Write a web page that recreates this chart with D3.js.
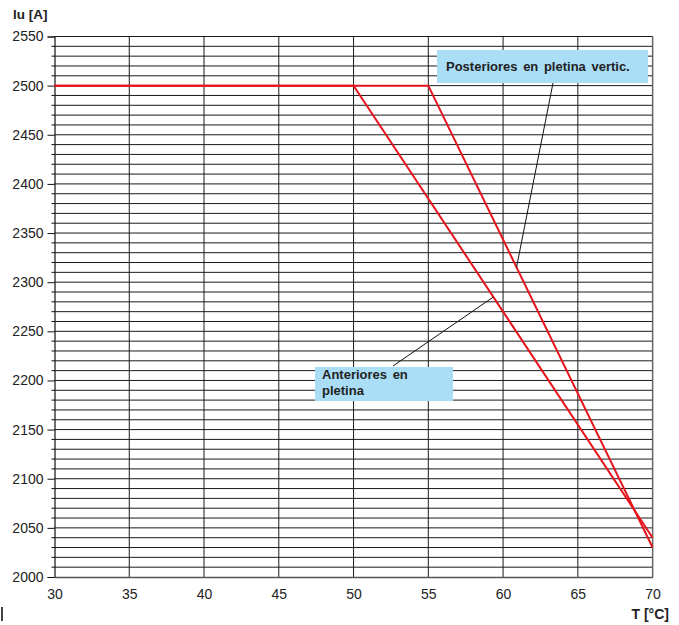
<!DOCTYPE html>
<html>
<head>
<meta charset="utf-8">
<script src="https://cdn.jsdelivr.net/npm/d3@7"></script>
<style>
  html, body { margin: 0; padding: 0; background: #fff; }
  svg { display: block; }
  text { font-family: "Liberation Sans", Arial, sans-serif; fill: #222; }
</style>
</head>
<body>
<script>
// ---- data ----
const posteriorT = [30, 55, 70];
const posteriorI = [2500, 2500, 2030];
const anteriorT  = [30, 50, 70];
const anteriorI  = [2500, 2500, 2040];
const xTicks = [30, 35, 40, 45, 50, 55, 60, 65, 70];
const yTicks = [2000, 2050, 2100, 2150, 2200, 2250, 2300, 2350, 2400, 2450, 2500, 2550];
const yTitle = "Iu [A]";
const xTitle = "T [°C]";
const labelPosterior = ["Posteriores en pletina vertic."];
const labelAnterior = ["Anteriores en", "pletina"];
const anchorPosteriorT = 60.9;
const anchorAnteriorT = 59.35;

// ---- layout ----
const W = 679, H = 625;
const svg = d3.select("body").append("svg").attr("width", W).attr("height", H);

const x = d3.scaleLinear().domain([30, 70]).range([54.5, 652.6]);
const y = d3.scaleLinear().domain([2000, 2550]).range([577, 36.5]);

const minorY = d3.range(2010, 2551, 10);
const minorX = d3.range(35, 71, 5);

// horizontal gridlines
svg.append("g").selectAll("line").data(minorY).join("line")
  .attr("x1", x(30)).attr("x2", x(70))
  .attr("y1", d => y(d)).attr("y2", d => y(d))
  .attr("stroke", "#1a1a1a").attr("stroke-width", 1);

// vertical gridlines
svg.append("g").selectAll("line").data(minorX).join("line")
  .attr("x1", d => x(d)).attr("x2", d => x(d))
  .attr("y1", y(2000)).attr("y2", y(2550))
  .attr("stroke", "#1a1a1a").attr("stroke-width", 1);

// y axis
const yAxis = d3.axisLeft(y).tickValues(yTicks).tickSize(7).tickPadding(4).tickFormat(d3.format("d"));
const gy = svg.append("g").attr("transform", `translate(${x(30)},0)`).call(yAxis);
gy.select(".domain").attr("stroke", "#111").attr("stroke-width", 1.2);
gy.selectAll(".tick line").attr("stroke", "#111");
gy.selectAll(".tick text").style("font-size", "14px").style("font-family", "Liberation Sans, Arial, sans-serif").attr("fill", "#2a2a2a");
// minor y ticks
svg.append("g").selectAll("line").data(minorY.filter(d => d % 50 !== 0)).join("line")
  .attr("x1", x(30) - 3).attr("x2", x(30))
  .attr("y1", d => y(d)).attr("y2", d => y(d))
  .attr("stroke", "#111");

// x axis
const xAxis = d3.axisBottom(x).tickValues(xTicks).tickSize(0).tickPadding(12).tickFormat(d3.format("d"));
const gx = svg.append("g").attr("transform", `translate(0,${y(2000)})`).call(xAxis);
gx.select(".domain").attr("stroke", "#555").attr("stroke-width", 1.6);
gx.selectAll(".tick text").style("font-size", "14px").style("font-family", "Liberation Sans, Arial, sans-serif").attr("fill", "#2a2a2a");

// right border
svg.append("line").attr("x1", x(70)).attr("x2", x(70)).attr("y1", y(2550)).attr("y2", y(2000))
  .attr("stroke", "#666").attr("stroke-width", 1.4);

// axis titles
svg.append("text").attr("x", 13).attr("y", 19).text(yTitle)
  .style("font-size", "13.5px").style("font-weight", "bold");
svg.append("text").attr("x", 669).attr("y", 619).attr("text-anchor", "end").text(xTitle)
  .style("font-size", "14px").style("font-weight", "bold");

// series
const line = d3.line().x(d => x(d[0])).y(d => y(d[1]));
const posterior = posteriorT.map((t, i) => [t, posteriorI[i]]);
const anterior = anteriorT.map((t, i) => [t, anteriorI[i]]);
[anterior, posterior].forEach(s => {
  svg.append("path").datum(s).attr("d", line)
    .attr("fill", "none").attr("stroke", "#e5141d").attr("stroke-width", 2)
    .attr("stroke-linejoin", "miter");
});

function valueAt(series, t) {
  for (let i = 0; i < series.length - 1; i++) {
    const [t0, v0] = series[i], [t1, v1] = series[i + 1];
    if (t >= t0 && t <= t1) return v0 + (v1 - v0) * (t - t0) / (t1 - t0);
  }
  return series[series.length - 1][1];
}

// annotations
const blue = "#aadef7";
// posterior box
svg.append("line")
  .attr("x1", 553).attr("y1", 83)
  .attr("x2", x(anchorPosteriorT)).attr("y2", y(valueAt(posterior, anchorPosteriorT)))
  .attr("stroke", "#111").attr("stroke-width", 1);
svg.append("rect").attr("x", 437).attr("y", 50).attr("width", 211).attr("height", 33).attr("fill", blue);
svg.append("text").attr("x", 446).attr("y", 71).text(labelPosterior[0])
  .style("font-size", "13px").style("font-weight", "bold").style("word-spacing", "2px");

// anterior box
svg.append("line")
  .attr("x1", 393).attr("y1", 366)
  .attr("x2", x(anchorAnteriorT)).attr("y2", y(valueAt(anterior, anchorAnteriorT)))
  .attr("stroke", "#111").attr("stroke-width", 1);
svg.append("rect").attr("x", 315).attr("y", 367).attr("width", 138).attr("height", 34).attr("fill", blue);
labelAnterior.forEach((t, i) => {
  svg.append("text").attr("x", 322).attr("y", 379 + i * 15.7).text(t)
    .style("font-size", "13px").style("font-weight", "bold").style("word-spacing", "2px");
});

// small mark bottom-left
svg.append("rect").attr("x", 1).attr("y", 607).attr("width", 2).attr("height", 14).attr("fill", "#444");
</script>
</body>
</html>
